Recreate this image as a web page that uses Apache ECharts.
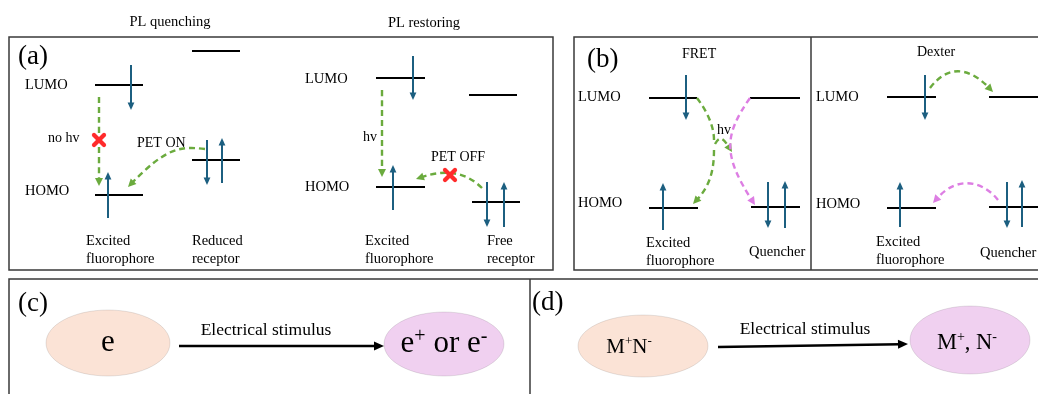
<!DOCTYPE html>
<html><head><meta charset="utf-8">
<script src="https://cdn.jsdelivr.net/npm/echarts@6/dist/echarts.min.js"></script>
<style>html,body{margin:0;padding:0;background:#fff}#c{width:1038px;height:394px}</style>
</head><body><div id="c"></div>
<script>
// ===== Diagram data (diagram units = axis values) =====
// panel frames [x1,y1,x2,y2]
const frames = [[9,37,553,270],[574,37,1050,270],[9,279,1050,400]];
// divider rules [x1,y1,x2,y2]
const dividers = [[811,37,811,270],[530,279,530,400]];
// energy levels [xStart,xEnd,y]
const levels = [
  [95,143,85],[192,240,51],[95,143,195],[192,240,160],
  [376,425,78],[469,517,95],[376,425,187],[472,520,202],
  [649,697,98],[750,800,98],[649,698,208],[751,800,207],
  [887,936,97],[989,1045,97],[887,936,208],[989,1045,207]
];
// electron spins [x, yFrom, yTo]
const spins = [
  [131,65,110],[108,218,172],[207,140,185],[222,183,138],
  [413,56,100],[393,210,165],[487,182,227],[504,227,182],
  [686,75,120],[663,230,183],[768,182,228],[785,228,181],
  [925,75,120],[900,227,182],[1007,182,228],[1022,227,180]
];
// energy/electron transfer paths (cubic): [x0,y0,c1x,c1y,c2x,c2y,x1,y1,hasArrow,kind(0 green,1 pink)]
const transfers = [
  [99,97,99,120,99,160,99,186,1,0],
  [205,149,180,146,162,152,128,187,1,0],
  [382,90,382,120,382,150,382,177,1,0],
  [482,188,466,172,440,171,416,179,1,0],
  [697,98,706,110,714,125,714,140,0,0],
  [714,150,714,170,706,190,693,204,1,0],
  [715,144,719,137,725,141,732,152,1,0],
  [750,98,724,135,726,160,755,205,1,1],
  [930,88,945,68,970,68,993,92,1,0],
  [998,200,985,183,955,178,933,203,1,1]
];
// blocked transfers (red crosses) [x,y]
const blocked = [[99,140],[450,175]];
// state ellipses [cx,cy,rx,ry,kind(0 initial,1 final)]
const blobs = [[108,343,62,33,0],[444,344,60,32,1],[643,346,65,31,0],[970,340,60,34,1]];
// stimulus arrows [x1,y1,x2,y2]
const stimuli = [[179,346,384,346],[718,347,908,344]];
// labels [text, x, y, role]
const labels = [
  ['PL quenching',170,22,'title'],['PL restoring',424,23,'title'],
  ['(a)',18,57,'panel'],
  ['LUMO',25,85,'level'],['HOMO',25,191,'level'],
  ['no hv',48,138,'note'],['PET ON',137,143,'note'],
  ['Excited\nfluorophore',86,250,'species'],['Reduced\nreceptor',192,250,'species'],
  ['LUMO',305,79,'level'],['HOMO',305,187,'level'],
  ['hv',363,137,'note'],['PET OFF',431,157,'note'],
  ['Excited\nfluorophore',365,250,'species'],['Free\nreceptor',487,250,'species'],
  ['(b)',587,60,'panel'],['FRET',682,54,'note'],
  ['LUMO',578,97,'level'],['HOMO',578,203,'level'],['hv',717,130,'note'],
  ['Excited\nfluorophore',646,252,'species'],['Quencher',749,252,'species'],
  ['Dexter',917,52,'note'],
  ['LUMO',816,97,'level'],['HOMO',816,204,'level'],
  ['Excited\nfluorophore',876,251,'species'],['Quencher',980,253,'species'],
  ['(c)',18,304,'panel'],['Electrical stimulus',266,330,'stim'],
  ['(d)',532,303,'panel'],['Electrical stimulus',805,329,'stim'],
  ['{b|e}',108,343,'ion'],['{b|e}{s|+}{b| or e}{s|-}',444,344,'ion'],
  ['{m|M}{t|+}{m|N}{t|-}',629,347,'ion'],['{n|M}{u|+}{n|, N}{u|-}',967,343,'ion']
];

// ===== Styles =====
const FONT = "'Liberation Serif','Times New Roman',serif";
const C = {frame:'#3a3a3a', level:'#000', spin:'#1c5f80', kinds:['#6bab3e','#dd7ee3'],
  cross:'#ff2b2b', blob:['#fbe3d6','#f0d0f0'], arrow:'#000', text:'#000'};
const ROLE = {
  title:{fontSize:14.5, align:'center'},
  level:{fontSize:14.5, align:'left'},
  note:{fontSize:14, align:'left'},
  species:{fontSize:14.5, align:'left', lineHeight:18},
  panel:{fontSize:27, align:'left'},
  stim:{fontSize:17.5, align:'center'},
  ion:{fontSize:31, align:'center'}
};
const RICH = {
  b:{fontSize:31, fontFamily:FONT, lineHeight:34, verticalAlign:'middle'},
  s:{fontSize:20, fontFamily:FONT, lineHeight:34, verticalAlign:'top'},
  m:{fontSize:21, fontFamily:FONT, lineHeight:24, verticalAlign:'middle'},
  t:{fontSize:13, fontFamily:FONT, lineHeight:24, verticalAlign:'top'},
  n:{fontSize:22.5, fontFamily:FONT, lineHeight:26, verticalAlign:'middle'},
  u:{fontSize:14, fontFamily:FONT, lineHeight:26, verticalAlign:'top'}
};

function head(tip, dx, dy, len, hw, color){
  const n = Math.hypot(dx,dy)||1, ux=dx/n, uy=dy/n;
  const bx = tip[0]-ux*len, by = tip[1]-uy*len;
  return {type:'polygon', shape:{points:[tip,[bx-uy*hw,by+ux*hw],[bx+uy*hw,by-ux*hw]]}, style:{fill:color}};
}
function series(data, render){
  return {type:'custom', coordinateSystem:'cartesian2d', silent:true, animation:false, clip:false,
    data: data.map(d=>[d[0],d[1]]), renderItem:(p,api)=>render(data[p.dataIndex],api)};
}
const S = [];
S.push(series(frames,(d,api)=>{const a=api.coord([d[0],d[1]]),b=api.coord([d[2],d[3]]);
  return {type:'rect',shape:{x:a[0],y:a[1],width:b[0]-a[0],height:b[1]-a[1]},style:{fill:'none',stroke:C.frame,lineWidth:1.5}};}));
S.push(series(dividers,(d,api)=>{const a=api.coord([d[0],d[1]]),b=api.coord([d[2],d[3]]);
  return {type:'line',shape:{x1:a[0],y1:a[1],x2:b[0],y2:b[1]},style:{stroke:C.frame,lineWidth:1.5}};}));
S.push(series(blobs,(d,api)=>{const c=api.coord([d[0],d[1]]),e=api.coord([d[0]+d[2],d[1]+d[3]]);
  return {type:'ellipse',shape:{cx:c[0],cy:c[1],rx:e[0]-c[0],ry:e[1]-c[1]},
    style:{fill:C.blob[d[4]],stroke:'rgba(0,0,0,0.10)',lineWidth:1}};}));
S.push(series(levels,(d,api)=>{const a=api.coord([d[0],d[2]]),b=api.coord([d[1],d[2]]);
  return {type:'line',shape:{x1:a[0],y1:a[1],x2:b[0],y2:b[1]},style:{stroke:C.level,lineWidth:2.2}};}));
S.push(series(spins,(d,api)=>{const a=api.coord([d[0],d[1]]),b=api.coord([d[0],d[2]]);
  const dir=Math.sign(b[1]-a[1]);
  return {type:'group',children:[
    {type:'line',shape:{x1:a[0],y1:a[1],x2:b[0],y2:b[1]-dir*4},style:{stroke:C.spin,lineWidth:2}},
    head(b,0,dir,7.5,3.4,C.spin)]};}));
S.push(series(transfers,(d,api)=>{
  const p0=api.coord([d[0],d[1]]),c1=api.coord([d[2],d[3]]),c2=api.coord([d[4],d[5]]),p1=api.coord([d[6],d[7]]);
  const col=C.kinds[d[9]];
  let dx=p1[0]-c2[0],dy=p1[1]-c2[1]; if(Math.hypot(dx,dy)<0.5){dx=p1[0]-c1[0];dy=p1[1]-c1[1];}
  const n=Math.hypot(dx,dy)||1, sh=d[8]?6:0;
  const e=[p1[0]-dx/n*sh,p1[1]-dy/n*sh], cc=[c2[0]-dx/n*sh,c2[1]-dy/n*sh];
  const ch=[{type:'bezierCurve',shape:{x1:p0[0],y1:p0[1],cpx1:c1[0],cpy1:c1[1],cpx2:cc[0],cpy2:cc[1],x2:e[0],y2:e[1]},
    style:{fill:'none',stroke:col,lineWidth:2.4,lineDash:[6,4]}}];
  if(d[8]) ch.push(head(p1,dx,dy,8,4,col));
  return {type:'group',children:ch};}));
S.push(series(blocked,(d,api)=>{const c=api.coord([d[0],d[1]]),r=5;
  const st={stroke:C.cross,lineWidth:4.2,lineCap:'round'};
  return {type:'group',children:[
    {type:'line',shape:{x1:c[0]-r,y1:c[1]-r,x2:c[0]+r,y2:c[1]+r},style:st},
    {type:'line',shape:{x1:c[0]-r,y1:c[1]+r,x2:c[0]+r,y2:c[1]-r},style:st}]};}));
S.push(series(stimuli,(d,api)=>{const a=api.coord([d[0],d[1]]),b=api.coord([d[2],d[3]]);
  const dx=b[0]-a[0],dy=b[1]-a[1],n=Math.hypot(dx,dy);
  return {type:'group',children:[
    {type:'line',shape:{x1:a[0],y1:a[1],x2:b[0]-dx/n*8,y2:b[1]-dy/n*8},style:{stroke:C.arrow,lineWidth:2.5}},
    head(b,dx,dy,10,4.5,C.arrow)]};}));
S.push(series(labels.map(l=>[l[1],l[2],l[0],l[3]]),(d,api)=>{
  const c=api.coord([d[0],d[1]]), r=ROLE[d[3]];
  const st={text:d[2],x:c[0],y:c[1],fill:C.text,fontFamily:FONT,fontSize:r.fontSize,align:r.align,verticalAlign:'middle'};
  if(r.lineHeight) st.lineHeight=r.lineHeight;
  if(d[3]==='ion') st.rich=RICH;
  return {type:'text',style:st};}));

const chart = echarts.init(document.getElementById('c'),null,{renderer:'canvas'});
chart.setOption({
  animation:false, backgroundColor:'#fff',
  grid:{left:0,right:0,top:0,bottom:0},
  xAxis:{type:'value',min:0,max:1038,show:false},
  yAxis:{type:'value',min:0,max:394,inverse:true,show:false},
  series:S
});
</script></body></html>
